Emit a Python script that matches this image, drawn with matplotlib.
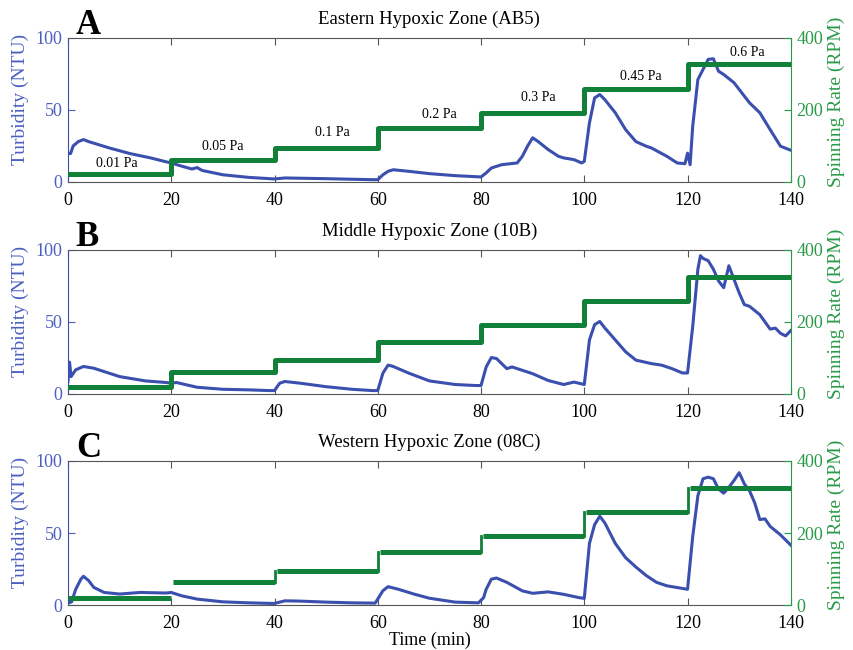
import matplotlib
matplotlib.use('Agg')
import matplotlib.pyplot as plt
import numpy as np

plt.rcParams['font.family'] = ['Liberation Serif', 'DejaVu Serif']

# Shear stress steps: 20-min intervals
step_edges = [0, 20, 40, 60, 80, 100, 120, 140]
stress_labels = ['0.01 Pa', '0.05 Pa', '0.1 Pa', '0.2 Pa', '0.3 Pa', '0.45 Pa', '0.6 Pa']

# Spinning rate (RPM) for each step
rpm_a = [21, 61, 94, 150, 192, 258, 326]
rpm_b = [20, 61, 94, 145, 192, 257, 325]
rpm_c = [20, 63, 95, 148, 192, 258, 326]

# Turbidity (NTU) traces
t_a = [0, 0.5, 1, 2, 3, 4, 8, 12, 16, 19, 20, 22, 24, 25, 26, 30, 35, 40, 42, 50, 59, 60,
       61, 62, 63, 66, 70, 75, 80, 81, 82, 84, 87, 88, 89, 90, 91, 93, 95, 96, 98, 99.5,
       100, 101, 102, 103, 104, 106, 108, 110, 112, 113, 116, 118, 119.5, 120, 120.5,
       121, 122, 123, 124, 125, 126, 127, 129, 132, 134, 136, 138, 140]
ntu_a = [20, 19.7, 25, 28, 29.4, 28, 23.6, 19.7, 16.7, 14, 13.2, 11, 9, 10, 8, 5, 3.2, 2.1,
         2.8, 2.3, 1.6, 1.6, 5, 7.4, 8.5, 7.4, 5.8, 4.4, 3.5, 6.3, 9.7, 12, 13.2, 17.8, 24.8,
         30.6, 28.2, 22.5, 17.8, 16.7, 15.5, 13.2, 14.3, 41, 58.3, 60.6, 57, 48, 36.3, 28,
         24.8, 23.6, 17.8, 13.2, 12.7, 20, 12, 38.6, 71, 78, 85, 85.4, 76.8, 74.5, 68.8,
         54.9, 48, 36.3, 24.8, 22]

t_b = [0, 0.3, 0.6, 1.5, 3, 5, 10, 15, 19, 20, 21, 25, 30, 35, 39, 40, 41, 42, 45, 50, 55,
       59, 60, 61, 62, 63, 66, 70, 75, 79, 80, 81, 82, 83, 85, 86, 90, 93, 96, 98, 100, 101,
       102, 103, 104, 106, 108, 110, 113, 115, 117, 119, 120, 121, 122, 122.5, 123, 124,
       125, 126, 127, 128, 129, 130, 131, 132, 134, 136, 137, 138, 139, 140]
ntu_b = [8.5, 22, 12, 16.7, 19, 17.8, 12, 9, 7.9, 7.4, 7.9, 4.6, 3.2, 2.8, 2.3, 2.3, 7.4,
         8.6, 7.4, 5, 3.2, 2.3, 2.3, 14.4, 20, 19, 14.4, 9, 6.5, 5.8, 5.8, 18.7, 25.2, 24.5,
         17.5, 18.7, 14, 9.3, 6.5, 8.2, 6.5, 37.4, 48, 50.2, 45.6, 37.4, 29.2, 23.4, 21,
         19.9, 17.5, 14.5, 14.5, 46.7, 86.4, 95.8, 93.9, 92.3, 86.4, 78.3, 73.6, 88.8, 79.4,
         70, 61.9, 60.7, 54.9, 44.9, 45.6, 42, 40.2, 43.9]

t_c = [0, 0.7, 1.5, 2.5, 3, 4, 5, 7, 10, 14, 19, 20, 22, 25, 30, 35, 39.5, 40, 42, 45, 50,
       55, 59.5, 61, 62, 64, 67, 70, 75, 79.5, 80.5, 81, 82, 83, 85, 88, 90, 93, 96, 99,
       100, 101, 102, 103, 104, 106, 108, 110, 112, 114, 116, 118, 120, 121, 122, 123, 124,
       125, 126, 127, 128, 129, 130, 131, 132, 133, 134, 135, 136, 138, 140]
ntu_c = [1.4, 2.3, 11, 18, 20, 17, 12.3, 8.8, 7.7, 8.8, 8.4, 8.8, 6.5, 4.2, 2.3, 1.6, 1.2,
         1.2, 3, 2.8, 2.1, 1.6, 1.4, 10, 12.8, 11, 7.7, 4.8, 2.1, 1.6, 5.2, 11, 18, 18.8,
         15.8, 9.9, 8.2, 9.2, 7.5, 5.2, 4.7, 42.8, 55.8, 61.6, 56.9, 42.8, 32.9, 26.4, 20.5,
         15.8, 13.4, 12.2, 11, 47.5, 75.8, 87.6, 88.7, 87.6, 80.5, 77.6, 81.6, 86.4, 91.8,
         84, 79.3, 71, 59.3, 59.8, 54.6, 48.7, 41.6]

# label positions for the stress annotations (panel A only)
label_t = [9.5, 30, 51.3, 72, 91, 111, 131.5]
label_ntu = [12.5, 24.8, 34.5, 46.5, 58.3, 73, 89.6]

blue = '#3a4fae'
blue_txt = '#4a5fc0'
green = '#118038'
green_txt = '#2a9a48'

panels = [
    ('A', 'Eastern Hypoxic Zone (AB5)', t_a, ntu_a, rpm_a, True),
    ('B', 'Middle Hypoxic Zone (10B)', t_b, ntu_b, rpm_b, True),
    ('C', 'Western Hypoxic Zone (08C)', t_c, ntu_c, rpm_c, False),
]
bottoms = [0.720, 0.394, 0.069]
height = 0.222

fig = plt.figure(figsize=(8.54, 6.5), dpi=100)

for k, (letter, title, t, ntu, rpm, joined) in enumerate(panels):
    ax = fig.add_axes([0.0796, bottoms[k], 0.8464, height])
    ax.plot(t, ntu, color=blue, linewidth=2.2, zorder=3)
    ax.set_xlim(0, 140)
    ax.set_ylim(0, 100)
    ax.set_xticks(range(0, 141, 20))
    ax.set_yticks([0, 50, 100])
    ax.tick_params(axis='x', direction='in', top=True, labelsize=13, length=5, pad=7,
                   color='#555555')
    ax.tick_params(axis='y', direction='in', colors=blue_txt, labelsize=13, length=5, pad=4)
    for s in ['top', 'bottom']:
        ax.spines[s].set_color('#555555')
    ax.spines['left'].set_color(blue)
    ax.spines['right'].set_visible(False)
    ax.set_ylabel('Turbidity (NTU)', color=blue_txt, fontsize=14)
    ax.yaxis.set_label_coords(-0.054, 0.57)
    ax.set_title(title, fontsize=13.5, pad=10)
    ax.text(0.011, 1.028, letter, transform=ax.transAxes, fontsize=25, fontweight='bold',
            ha='left', va='baseline')

    ax2 = ax.twinx()
    if joined:
        ax2.plot(step_edges, rpm + [rpm[-1]], drawstyle='steps-post', color=green,
                 linewidth=3.6)
    else:
        # in C the first two steps are not joined by vertical lines
        for i in range(len(rpm)):
            x0 = step_edges[i] + (0.4 if i > 0 else 0)
            ax2.plot([x0, step_edges[i + 1]], [rpm[i], rpm[i]],
                     color=green, linewidth=3.6, solid_capstyle='butt')
            if i >= 2:
                ax2.plot([step_edges[i], step_edges[i]], [rpm[i - 1], rpm[i]],
                         color=green, linewidth=2)
    ax2.set_ylim(0, 400)
    ax2.set_xlim(0, 140)
    ax2.set_yticks([0, 200, 400])
    ax2.tick_params(axis='y', direction='in', colors=green_txt, labelsize=13, length=5, pad=4)
    ax2.spines['right'].set_color(green_txt)
    for s in ['top', 'bottom', 'left']:
        ax2.spines[s].set_visible(False)
    ax2.set_ylabel('Spinning Rate (RPM)', color=green_txt, fontsize=14)
    ax2.yaxis.set_label_coords(1.051, 0.555)

    if k == 0:
        for lt, ln, lab in zip(label_t, label_ntu, stress_labels):
            ax.text(lt, ln, lab, fontsize=10, ha='center', va='center', zorder=5)
    if k == 2:
        ax.set_xlabel('Time (min)', fontsize=13)
        ax.xaxis.set_label_coords(0.5, -0.185)

fig.savefig('out.png', dpi=100)
